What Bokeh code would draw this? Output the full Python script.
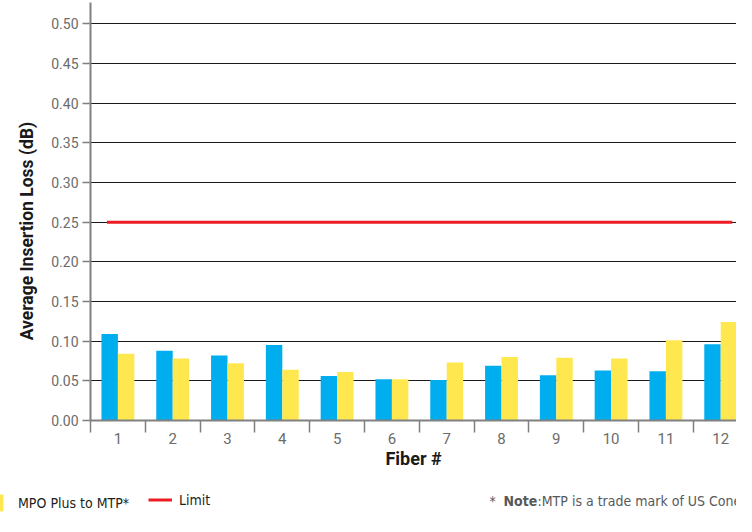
import numpy as np
from bokeh.plotting import figure
from bokeh.models import (ColumnDataSource, Range1d, FixedTicker, Legend, LegendItem,
                          Label, PrintfTickFormatter)
from bokeh.transform import dodge
from bokeh.embed import file_html
from bokeh.resources import INLINE

# ---- data ----
fibers = [1, 2, 3, 4, 5, 6, 7, 8, 9, 10, 11, 12]
blue_series = [0.109, 0.088, 0.082, 0.095, 0.056, 0.052, 0.051, 0.069, 0.057, 0.063, 0.062, 0.096]
mpo_plus_to_mtp = [0.084, 0.078, 0.072, 0.064, 0.061, 0.052, 0.073, 0.080, 0.079, 0.078, 0.101, 0.124]
limit_value = 0.25
limit_x = [0.8, 12.21]
y_ticks = [0.00, 0.05, 0.10, 0.15, 0.20, 0.25, 0.30, 0.35, 0.40, 0.45, 0.50]
fiber_boundaries = [f - 0.5 for f in fibers] + [12.5]

BLUE = "#00AEEF"
YELLOW = "#FFE84F"
RED = "#ED1C24"
AXIS_GRAY = "#808080"
TICK_TEXT = "#6b6b6b"
NARROW = "DejaVu Sans Condensed"
W = 736

src = ColumnDataSource(dict(fiber=fibers, blue=blue_series, yellow=mpo_plus_to_mtp))

p = figure(width=W, height=480, output_backend="svg", toolbar_location=None,
           x_range=Range1d(0.5, 12.288), y_range=Range1d(0, 0.5268),
           min_border_left=90, min_border_right=0, min_border_top=2, min_border_bottom=60)
p.outline_line_color = None

r_blue = p.vbar(x=dodge("fiber", -0.15, range=p.x_range), top="blue", width=0.3,
                source=src, fill_color=BLUE, line_color=None)
r_yellow = p.vbar(x=dodge("fiber", 0.15, range=p.x_range), top="yellow", width=0.3,
                  source=src, fill_color=YELLOW, line_color=None)
r_limit = p.line(x=limit_x, y=[limit_value, limit_value], line_color=RED, line_width=3)

# grid
p.xgrid.visible = False
p.ygrid.ticker = FixedTicker(ticks=y_ticks)
p.ygrid.grid_line_color = "#1a1a1a"
p.ygrid.grid_line_width = 1

# y axis
ya = p.yaxis[0]
ya.ticker = FixedTicker(ticks=y_ticks)
ya.formatter = PrintfTickFormatter(format="%.2f")
ya.axis_line_color = AXIS_GRAY
ya.axis_line_width = 2
ya.major_tick_line_color = AXIS_GRAY
ya.major_tick_line_width = 1.5
ya.major_tick_out = 8
ya.major_tick_in = 0
ya.minor_tick_out = 0
ya.minor_tick_in = 0
ya.major_label_standoff = 4
ya.major_label_text_font = "Roboto"
ya.major_label_text_font_size = "14px"
ya.major_label_text_color = TICK_TEXT
# trailing no-break spaces move the centred title a little lower, as in the reference
ya.axis_label = "Average Insertion Loss (dB)" + "\u00a0" * 9
ya.axis_label_text_font = "Roboto"
ya.axis_label_text_font_style = "bold"
ya.axis_label_text_font_size = "17.5px"
ya.axis_label_text_color = "#1a1a1a"
ya.axis_label_standoff = 11

# x axis
xa = p.xaxis[0]
xa.ticker = FixedTicker(ticks=fibers, minor_ticks=fiber_boundaries)
xa.axis_line_color = AXIS_GRAY
xa.axis_line_width = 2
xa.major_tick_out = 0
xa.major_tick_in = 0
xa.minor_tick_out = 12
xa.minor_tick_in = 0
xa.minor_tick_line_color = AXIS_GRAY
xa.minor_tick_line_width = 1.5
xa.major_label_standoff = 0
xa.major_label_text_font = "Roboto"
xa.major_label_text_font_size = "15px"
xa.major_label_text_color = TICK_TEXT
xa.axis_label = "Fiber #"
xa.axis_label_text_font = "Roboto"
xa.axis_label_text_font_style = "bold"
xa.axis_label_text_font_size = "18px"
xa.axis_label_text_color = "#1a1a1a"
xa.axis_label_standoff = 1

# ---- bottom strip: legend and note (separate root, frame = whole strip) ----
H2 = 36
p2 = figure(width=W, height=H2, output_backend="svg", toolbar_location=None,
            x_range=Range1d(0, W), y_range=Range1d(0, H2),
            x_axis_location=None, y_axis_location=None, min_border=0)
p2.outline_line_color = None
p2.grid.visible = False
# legend proxies: one undrawn (NaN) point each, so the legend draws their swatches
lg_yellow = p2.vbar(x=np.array([np.nan]), top=np.array([np.nan]), width=1,
                    fill_color=YELLOW, line_color=None)
lg_limit = p2.line(x=np.array([np.nan]), y=np.array([np.nan]), line_color=RED, line_width=3)

common = dict(orientation="horizontal", padding=0, margin=0, spacing=0,
              border_line_color=None, background_fill_alpha=0,
              label_text_font=NARROW, label_text_font_size="14px",
              label_text_color="#231f20", glyph_height=21, label_height=21)
leg1 = Legend(items=[LegendItem(label="MPO Plus to MTP*", renderers=[lg_yellow])],
              location=(-15, 3), glyph_width=20, label_standoff=13, **common)
leg2 = Legend(items=[LegendItem(label="Limit", renderers=[lg_limit])],
              location=(148, 6), glyph_width=24, label_standoff=7, **common)
p2.add_layout(leg1)
p2.add_layout(leg2)

note_style = dict(y=15.5, text_baseline="middle", text_font=NARROW,
                  text_font_size="14px", text_color="#58595b")
p2.add_layout(Label(x=489, text="*", **note_style))
p2.add_layout(Label(x=503, text="Note", text_font_style="bold", **note_style))
p2.add_layout(Label(x=537, text=":MTP is a trade mark of US Conec Ltd.", **note_style))

open("out.html", "w").write(file_html([p, p2], INLINE))
